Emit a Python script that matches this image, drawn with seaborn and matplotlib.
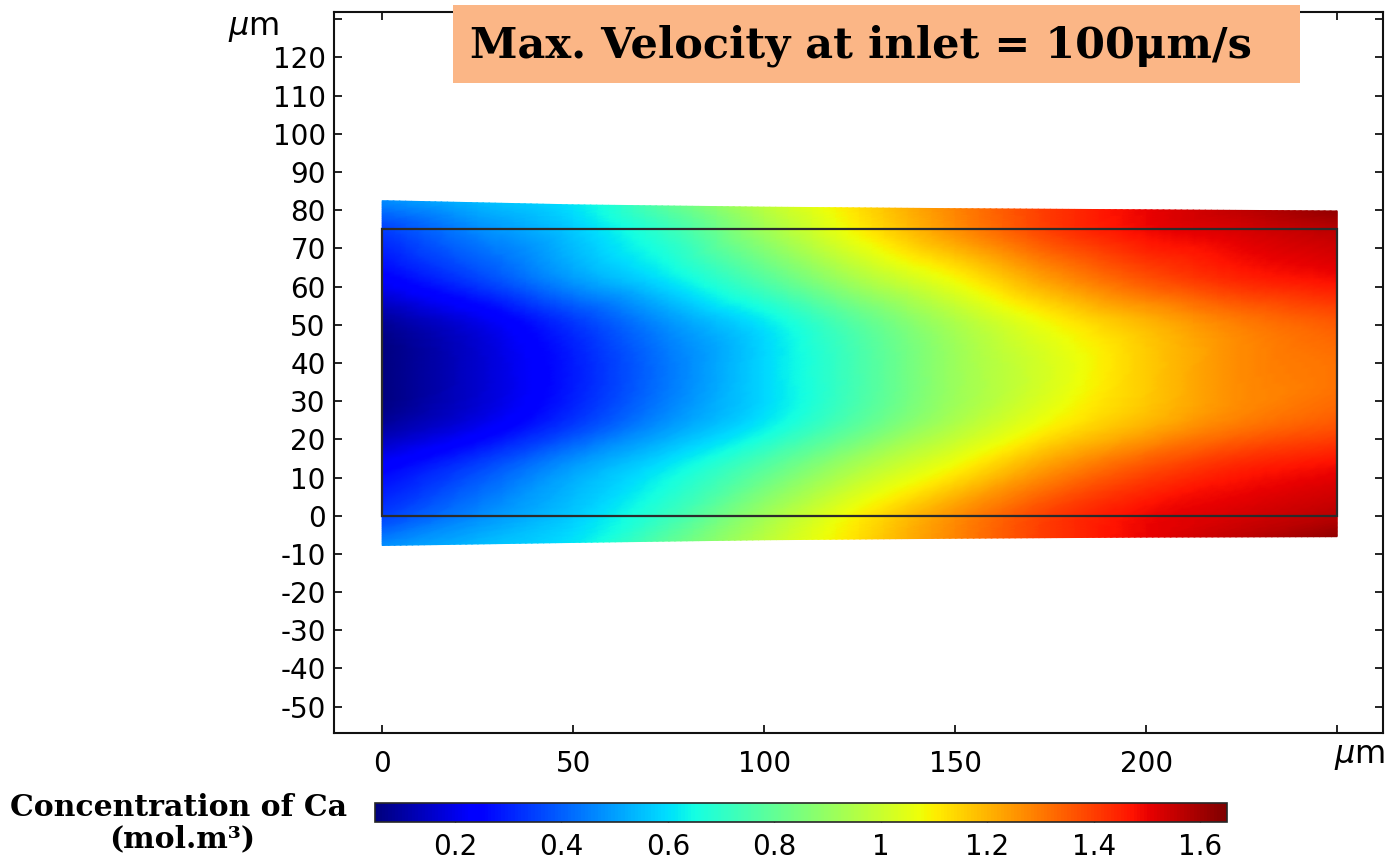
import numpy as np
import matplotlib
matplotlib.use("Agg")
import matplotlib.pyplot as plt
import matplotlib.tri as mtri
import seaborn as sns
from matplotlib.patches import Rectangle

# Sample columns along the channel (um)
x_cols = [0, 25, 50, 75, 100, 125, 150, 175, 200, 225, 250]

# Ca concentration (mol/m^3) on each row of the channel
conc_center = [0.05, 0.16, 0.29, 0.44, 0.59, 0.75, 0.91, 1.03, 1.16, 1.27, 1.31]     # y = 37.5
conc_inner = [0.08, 0.19, 0.33, 0.48, 0.61, 0.78, 0.94, 1.08, 1.19, 1.29, 1.35]      # y = 25 / 50
conc_near_wall = [0.24, 0.36, 0.50, 0.62, 0.78, 0.95, 1.09, 1.25, 1.37, 1.45, 1.49]  # y = 12.5 / 62.5
conc_wall = [0.35, 0.47, 0.57, 0.72, 0.92, 1.10, 1.26, 1.40, 1.49, 1.53, 1.57]       # y = 0 / 75
conc_outer = [0.47, 0.54, 0.61, 0.79, 0.97, 1.13, 1.28, 1.41, 1.50, 1.56, 1.62]      # deformed edge

# Deformed outer boundary of the domain
edge_x = [0, 50, 100, 150, 200, 250]
edge_top = [82.5, 81.4, 80.8, 80.4, 80.1, 79.8]
edge_bottom = [-7.8, -7.0, -6.3, -5.9, -5.6, -5.5]

# Channel geometry and row positions
channel_length = 250
channel_height = 75
row_y = [0, 12.5, 25, 37.5, 50, 62.5, 75]

x_ticks = [0, 50, 100, 150, 200, 250]
x_tick_labels = ["0", "50", "100", "150", "200", ""]
y_ticks = list(range(-50, 131, 10))
y_tick_labels = [str(v) for v in y_ticks[:-1]] + [""]
cbar_ticks = [0.2, 0.4, 0.6, 0.8, 1.0, 1.2, 1.4, 1.6]
cbar_tick_labels = ["0.2", "0.4", "0.6", "0.8", "1", "1.2", "1.4", "1.6"]
c_min, c_max = 0.05, 1.65

sns.set_style("ticks")
plt.rcParams["font.family"] = ["DejaVu Sans"]
plt.rcParams.update({"text.color": "black", "xtick.color": "black",
                     "ytick.color": "black", "axes.labelcolor": "black"})

W, H = 1389, 860
fig = plt.figure(figsize=(W / 100, H / 100), dpi=100)

# axes box in pixels: left 334, right 1383, top 12, bottom 733
ax = fig.add_axes([334 / W, 1 - 733 / H, (1383 - 334) / W, (733 - 12) / H])

# Mesh of the domain: rows from the lower deformed edge up to the upper one
xc = np.array(x_cols, dtype=float)
top = np.interp(xc, edge_x, edge_top)
bot = np.interp(xc, edge_x, edge_bottom)
Y = np.vstack([bot] + [np.full_like(xc, y) for y in row_y] + [top])
X = np.tile(xc, (Y.shape[0], 1))
C = np.vstack([conc_outer, conc_wall, conc_near_wall, conc_inner, conc_center,
               conc_inner, conc_near_wall, conc_wall, conc_outer])

nr, nc = X.shape
tris = []
for r in range(nr - 1):
    for c in range(nc - 1):
        a = r * nc + c
        b, d = a + 1, a + nc
        e = d + 1
        tris += [[a, b, e], [a, e, d]]
tri = mtri.Triangulation(X.ravel(), Y.ravel(), tris)
interp = mtri.CubicTriInterpolator(tri, C.ravel(), kind="geom")
tri_f, c_f = mtri.UniformTriRefiner(tri).refine_field(C.ravel(), triinterpolator=interp,
                                                      subdiv=4)

cmap = matplotlib.colormaps["jet"]
mesh = ax.tripcolor(tri_f, c_f, shading="gouraud", cmap=cmap, vmin=c_min, vmax=c_max)

ax.add_patch(Rectangle((0, 0), channel_length, channel_height, fill=False,
                       ec="#2b2b2b", lw=1.6, zorder=3))

ax.set_xlim(-12.6, 262)
ax.set_ylim(-56.9, 131.9)
ax.set_xticks(x_ticks)
ax.set_xticklabels(x_tick_labels)
ax.set_yticks(y_ticks)
ax.set_yticklabels(y_tick_labels)
ax.tick_params(direction="in", length=6, width=1.2, colors="black",
               top=True, right=True, labelsize=20)
ax.tick_params(axis="x", pad=12)
ax.tick_params(axis="y", pad=6)
for s in ax.spines.values():
    s.set_linewidth(1.5)
    s.set_color("#111111")

fig.text(254 / W, 1 - 28 / H, r"$\mu$m", ha="center", va="center", fontsize=23)
fig.text(1360 / W, 1 - 757 / H, r"$\mu$m", ha="center", va="center", fontsize=23)

# Title box
fig.add_artist(Rectangle((453 / W, 1 - 83 / H), (1300 - 453) / W, 78 / H,
                         transform=fig.transFigure, fc="#FBB686", ec="none", zorder=5))
fig.text(861 / W, 1 - 46 / H, "Max. Velocity at inlet = 100\u03bcm/s",
         ha="center", va="center", fontsize=31, fontweight="bold",
         family="DejaVu Serif", color="black", zorder=6)

# Colorbar
cax = fig.add_axes([375 / W, 1 - 822 / H, (1227 - 375) / W, 19 / H])
cb = fig.colorbar(mesh, cax=cax, orientation="horizontal")
cb.set_ticks(cbar_ticks)
cb.set_ticklabels(cbar_tick_labels)
cax.tick_params(direction="in", length=4, width=1, top=True, bottom=True,
                labelsize=20, pad=8, colors="black")
cb.outline.set_linewidth(1.2)

fig.text(179 / W, 1 - 808 / H, "Concentration of Ca", ha="center", va="center",
         fontsize=21.5, fontweight="bold", family="DejaVu Serif", color="black")
fig.text(182 / W, 1 - 839 / H, "(mol.m\u00b3)", ha="center", va="center",
         fontsize=21.5, fontweight="bold", family="DejaVu Serif", color="black")

fig.savefig("out.png", dpi=100)
